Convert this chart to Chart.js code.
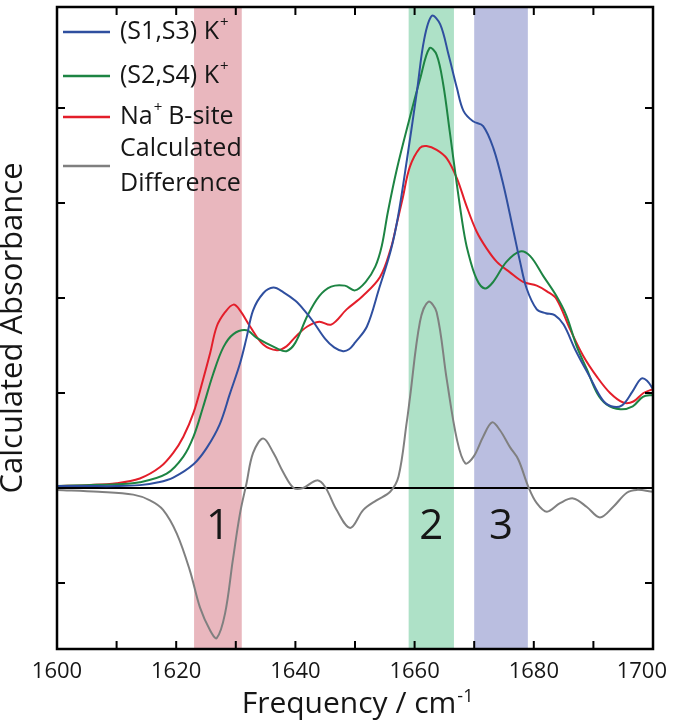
<!DOCTYPE html>
<html>
<head>
<meta charset="utf-8">
<script src="https://cdn.jsdelivr.net/npm/chart.js@4.4.1/dist/chart.umd.min.js"></script>
<style>
  html, body { margin: 0; padding: 0; background: #fff; }
  #wrap { width: 673px; height: 725px; }
</style>
</head>
<body>
<div id="wrap"><canvas id="c" width="673" height="725"></canvas></div>
<script>
(function () {
  "use strict";

  // ---- data ----
  var s13Freq = [1600, 1605, 1610, 1613.9, 1617, 1619.5, 1622.9, 1625.1, 1627.3, 1629, 1630.7, 1631.8, 1632.9, 1634.6, 1636.3, 1638, 1640, 1641.5, 1643, 1645, 1646.5, 1648, 1649, 1650, 1652, 1654, 1656, 1657.2, 1658.7, 1660.4, 1661.6, 1662.9, 1664.3, 1665.7, 1667.1, 1668.2, 1669.8, 1671.5, 1673.2, 1674.9, 1676.6, 1677.7, 1678.8, 1680.5, 1682, 1683.5, 1685, 1687, 1689.3, 1691.5, 1693, 1694.8, 1696.6, 1698, 1699, 1700];
  var s13Abs  = [0.02, 0.02, 0.02, 0.03, 0.06, 0.11, 0.25, 0.42, 0.67, 0.99, 1.31, 1.58, 1.87, 2.05, 2.11, 2.06, 1.97, 1.87, 1.75, 1.57, 1.48, 1.44, 1.46, 1.53, 1.70, 2.09, 2.50, 2.85, 3.45, 4.18, 4.72, 4.97, 4.88, 4.56, 4.21, 3.97, 3.86, 3.81, 3.58, 3.19, 2.70, 2.38, 2.10, 1.88, 1.84, 1.82, 1.72, 1.45, 1.18, 0.93, 0.86, 0.87, 1.02, 1.15, 1.13, 1.04];

  var s24Freq = [1600, 1605, 1610, 1613.9, 1618.4, 1621.2, 1622.9, 1624.5, 1626.2, 1627.9, 1629.6, 1631.8, 1633.5, 1636.9, 1638.5, 1640, 1642, 1644, 1646, 1648.3, 1650, 1651.8, 1653.4, 1654.5, 1655.5, 1657, 1659.2, 1660.9, 1662.5, 1663.7, 1664.8, 1665.9, 1667.1, 1668.2, 1668.9, 1670.4, 1671.8, 1673.2, 1675.4, 1677.7, 1679.4, 1681.6, 1683.8, 1685.5, 1687.2, 1688.9, 1690.6, 1692.2, 1694.5, 1696.6, 1698.3, 1700];
  var s24Abs  = [0.02, 0.03, 0.04, 0.06, 0.15, 0.33, 0.54, 0.85, 1.20, 1.48, 1.62, 1.66, 1.58, 1.47, 1.44, 1.53, 1.81, 2.02, 2.12, 2.13, 2.08, 2.17, 2.33, 2.55, 2.90, 3.35, 3.90, 4.30, 4.63, 4.56, 4.25, 3.75, 3.19, 2.72, 2.50, 2.20, 2.10, 2.17, 2.38, 2.49, 2.44, 2.23, 2.02, 1.81, 1.49, 1.25, 1.00, 0.88, 0.83, 0.86, 0.96, 0.98];

  var naFreq = [1600, 1605, 1610, 1613.9, 1617.3, 1619.5, 1621.2, 1622.9, 1624.5, 1625.7, 1626.8, 1628.2, 1629.6, 1630.7, 1632.4, 1634.6, 1636.9, 1638.5, 1640, 1642, 1644, 1646, 1648.6, 1651.3, 1654.2, 1656, 1657, 1658, 1659.2, 1660.9, 1662, 1663.7, 1665.4, 1667.1, 1668.7, 1670.4, 1672.1, 1673.8, 1676, 1678.2, 1680.5, 1682.2, 1683.8, 1686.1, 1688.3, 1690.6, 1692.8, 1695, 1696.7, 1698.4, 1700];
  var naAbs  = [0.02, 0.03, 0.05, 0.10, 0.22, 0.37, 0.54, 0.79, 1.14, 1.42, 1.70, 1.85, 1.93, 1.87, 1.70, 1.51, 1.45, 1.49, 1.59, 1.70, 1.75, 1.72, 1.88, 2.02, 2.22, 2.52, 2.78, 3.05, 3.38, 3.58, 3.60, 3.56, 3.47, 3.26, 2.97, 2.70, 2.52, 2.38, 2.27, 2.17, 2.13, 2.07, 1.99, 1.67, 1.39, 1.17, 1.00, 0.90, 0.91, 1.00, 1.04];

  var diffFreq = [1600, 1607, 1612.8, 1615.6, 1617.8, 1620.1, 1622.3, 1624, 1625.7, 1626.8, 1628.2, 1629.5, 1630.7, 1631.8, 1632.9, 1634.6, 1636.3, 1638, 1639.7, 1641.3, 1643.6, 1645, 1646.9, 1649.2, 1651.4, 1653.6, 1655.9, 1657.3, 1658.7, 1659.2, 1660.9, 1662.3, 1663.7, 1665.4, 1667.1, 1668.5, 1669.9, 1671.5, 1673, 1674.3, 1676, 1677.4, 1679.1, 1680.5, 1682.2, 1684.4, 1686.6, 1688.9, 1691.1, 1693.3, 1695.6, 1697.3, 1700];
  var diffAbs  = [-0.02, -0.04, -0.07, -0.13, -0.23, -0.48, -0.87, -1.26, -1.50, -1.58, -1.32, -0.76, -0.27, 0.05, 0.37, 0.52, 0.37, 0.16, 0.00, 0.00, 0.08, 0.01, -0.23, -0.42, -0.23, -0.13, -0.04, 0.12, 0.70, 0.94, 1.75, 1.96, 1.85, 1.14, 0.51, 0.26, 0.33, 0.54, 0.69, 0.61, 0.43, 0.30, 0.01, -0.16, -0.25, -0.16, -0.11, -0.20, -0.31, -0.20, -0.05, -0.02, -0.04];

  var bandStart = [1623, 1659, 1670];
  var bandEnd = [1631, 1666.6, 1679];
  var bandLabels = ["1", "2", "3"];
  var bandColors = ["#e9b7be", "#aee1c7", "#babee0"];

  var xTickLabels = [1600, 1620, 1640, 1660, 1680, 1700];

  var FONT = '"Open Sans", "Liberation Sans", sans-serif';
  var INK = "#161616";

  function pts(xs, ys) {
    return xs.map(function (x, i) { return { x: x, y: ys[i] }; });
  }

  function series(label, xs, ys, color) {
    return {
      label: label,
      data: pts(xs, ys),
      borderColor: color,
      backgroundColor: color,
      borderWidth: 2,
      pointRadius: 0,
      tension: 0.35,
      fill: false,
    };
  }

  // text with optional superscript part
  function drawSup(ctx, x, y, base, sup, size) {
    ctx.font = size + "px " + FONT;
    ctx.fillText(base, x, y);
    if (!sup) return;
    var w = ctx.measureText(base).width;
    ctx.font = Math.round(size * 0.6) + "px " + FONT;
    ctx.fillText(sup, x + w + 1, y - size * 0.38);
  }

  var decor = {
    id: "decor",
    beforeDatasetsDraw: function (chart) {
      var ctx = chart.ctx, a = chart.chartArea;
      var xs = chart.scales.x, ys = chart.scales.y;
      ctx.save();
      bandStart.forEach(function (b, i) {
        var x0 = xs.getPixelForValue(b), x1 = xs.getPixelForValue(bandEnd[i]);
        ctx.fillStyle = bandColors[i];
        ctx.fillRect(x0, a.top, x1 - x0, a.bottom - a.top);
        ctx.fillStyle = INK;
        ctx.font = "42px " + FONT;
        ctx.textAlign = "center";
        ctx.textBaseline = "middle";
        ctx.fillText(bandLabels[i], (x0 + x1) / 2, ys.getPixelForValue(-0.41));
      });
      // zero line
      var y0 = ys.getPixelForValue(0);
      ctx.strokeStyle = "#000";
      ctx.lineWidth = 2;
      ctx.beginPath();
      ctx.moveTo(a.left, y0);
      ctx.lineTo(a.right, y0);
      ctx.stroke();
      ctx.restore();
    },
    afterDraw: function (chart) {
      var ctx = chart.ctx, a = chart.chartArea;
      var xs = chart.scales.x, ys = chart.scales.y;
      ctx.save();
      ctx.strokeStyle = "#000";
      ctx.lineWidth = 2.5;
      ctx.strokeRect(a.left, a.top, a.right - a.left, a.bottom - a.top);

      // inward ticks
      ctx.lineWidth = 2;
      ctx.beginPath();
      for (var f = 1610; f < 1700; f += 10) {
        var px = xs.getPixelForValue(f);
        ctx.moveTo(px, a.bottom); ctx.lineTo(px, a.bottom - 8);
        ctx.moveTo(px, a.top); ctx.lineTo(px, a.top + 8);
      }
      [-1, 1, 2, 3, 4].forEach(function (v) {
        var py = ys.getPixelForValue(v);
        ctx.moveTo(a.left, py); ctx.lineTo(a.left + 8, py);
        ctx.moveTo(a.right, py); ctx.lineTo(a.right - 8, py);
      });
      ctx.stroke();

      // tick labels (last one pulled in to stay on the canvas)
      ctx.fillStyle = INK;
      ctx.font = "22px " + FONT;
      ctx.textBaseline = "middle";
      xTickLabels.forEach(function (t, i) {
        var last = i === xTickLabels.length - 1;
        ctx.textAlign = last ? "right" : "center";
        ctx.fillText(String(t), last ? a.right + 14 : xs.getPixelForValue(t), a.bottom + 23);
      });

      // x title
      ctx.textAlign = "left";
      ctx.textBaseline = "alphabetic";
      ctx.font = "30px " + FONT;
      var xt = "Frequency / cm";
      var wx = ctx.measureText(xt).width + 12;
      drawSup(ctx, (a.left + a.right) / 2 - wx / 2, 713, xt, "-1", 30);

      // y title
      ctx.save();
      ctx.translate(21, (a.top + a.bottom) / 2);
      ctx.rotate(-Math.PI / 2);
      ctx.textAlign = "center";
      ctx.textBaseline = "bottom";
      ctx.font = "31px " + FONT;
      ctx.fillText("Calculated Absorbance", 0, 8);
      ctx.restore();

      // legend
      var rows = [
        { c: "#2f4f9f", ly: 32, t: [["(S1,S3) K", "+", 32]] },
        { c: "#1d8443", ly: 76, t: [["(S2,S4) K", "+", 76]] },
        { c: "#e31e2a", ly: 117, t: [["Na", "+ B-site", 117]] },
        { c: "#7f7f7f", ly: 166, t: [["Calculated", "", 149], ["Difference", "", 184]] },
      ];
      ctx.textBaseline = "middle";
      ctx.textAlign = "left";
      rows.forEach(function (r) {
        ctx.strokeStyle = r.c;
        ctx.lineWidth = 2.5;
        ctx.beginPath();
        ctx.moveTo(63, r.ly); ctx.lineTo(110, r.ly);
        ctx.stroke();
        ctx.fillStyle = INK;
        r.t.forEach(function (t) {
          if (t[1] === "+ B-site") {
            drawSup(ctx, 120, t[2], "Na", "+", 25);
            ctx.font = "25px " + FONT;
            var w = ctx.measureText("Na").width;
            ctx.fillText(" B-site", 120 + w + 9, t[2]);
          } else {
            drawSup(ctx, 120, t[2], t[0], t[1], 25);
          }
        });
      });
      ctx.restore();
    },
  };

  new Chart(document.getElementById("c").getContext("2d"), {
    type: "line",
    data: {
      datasets: [
        series("(S1,S3) K+", s13Freq, s13Abs, "#2f4f9f"),
        series("(S2,S4) K+", s24Freq, s24Abs, "#1d8443"),
        series("Na+ B-site", naFreq, naAbs, "#e31e2a"),
        series("Calculated Difference", diffFreq, diffAbs, "#808080"),
      ],
    },
    options: {
      responsive: false,
      animation: false,
      layout: { padding: { left: 57, top: 7, right: 20, bottom: 76 } },
      plugins: { legend: { display: false }, tooltip: { enabled: false } },
      scales: {
        x: { type: "linear", min: 1600, max: 1700, display: false },
        y: { min: -1.695, max: 5.063, display: false },
      },
    },
    plugins: [decor],
  });
})();
</script>
</body>
</html>
